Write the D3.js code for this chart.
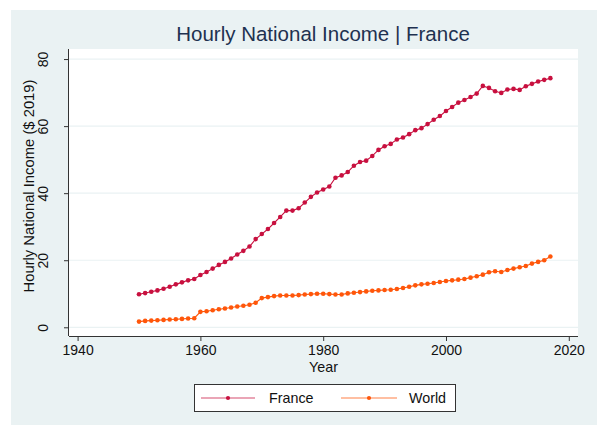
<!DOCTYPE html>
<html>
<head>
<meta charset="utf-8">
<script src="https://cdn.jsdelivr.net/npm/d3@7"></script>
<style>
  html, body { margin: 0; padding: 0; background: #ffffff; }
  svg { display: block; }
  text { font-family: "Liberation Sans", Arial, Helvetica, sans-serif; }
</style>
</head>
<body>
<svg id="chart" width="597" height="425"></svg>
<script>
const years = d3.range(1950, 2018);
const franceValues = [
  9.85, 10.2, 10.6, 11.0, 11.5, 12.1, 12.8, 13.4, 14.0, 14.4,
  15.6, 16.5, 17.5, 18.6, 19.5, 20.5, 21.7, 22.8, 24.1, 26.3,
  27.8, 29.3, 31.1, 32.9, 34.8, 34.8, 35.5, 37.2, 38.9, 40.2,
  41.1, 42.0, 44.6, 45.3, 46.3, 48.2, 49.3, 49.7, 51.1, 52.9,
  54.0, 54.7, 56.0, 56.6, 57.6, 58.8, 59.4, 60.6, 61.9, 63.0,
  64.5, 65.7, 67.0, 67.8, 68.7, 69.7, 72.0, 71.4, 70.4, 69.9,
  70.9, 71.1, 70.8, 71.9, 72.6, 73.3, 73.8, 74.3
];
const worldValues = [
  1.7, 1.9, 2.0, 2.1, 2.2, 2.3, 2.4, 2.5, 2.6, 2.7,
  4.6, 4.8, 5.1, 5.4, 5.6, 5.9, 6.2, 6.4, 6.7, 7.3,
  8.7, 9.0, 9.3, 9.5, 9.5, 9.5, 9.6, 9.8, 9.9, 10.0,
  10.0, 9.9, 9.8, 9.8, 10.1, 10.3, 10.5, 10.7, 10.9, 11.0,
  11.1, 11.2, 11.4, 11.7, 12.1, 12.5, 12.8, 13.0, 13.2, 13.5,
  13.8, 14.0, 14.2, 14.4, 14.8, 15.2, 15.7, 16.4, 16.7, 16.5,
  17.1, 17.5, 17.9, 18.3, 19.0, 19.5, 20.0, 21.1
];
const seriesNames = ["France", "World"];
const seriesColors = ["#c8103f", "#ff560a"];
const xTicks = [1940, 1960, 1980, 2000, 2020];
const yTicks = [0, 20, 40, 60, 80];
const titleText = "Hourly National Income | France";
const xTitle = "Year";
const yTitle = "Hourly National Income ($ 2019)";

const svg = d3.select("#chart");
const W = 597, H = 425;
const plot = { left: 69, right: 578, top: 49, bottom: 336 };

// graph region background
svg.append("rect").attr("x", 11).attr("y", 10).attr("width", W - 11).attr("height", H - 10)
  .attr("fill", "#eaf2f3");

const x = d3.scaleLinear().domain([1938.6, 2021.5]).range([plot.left, plot.right]);
const y = d3.scaleLinear().domain([-2.6, 83]).range([plot.bottom, plot.top]);

// plot region
svg.append("rect").attr("x", plot.left).attr("y", plot.top)
  .attr("width", plot.right - plot.left).attr("height", plot.bottom - plot.top)
  .attr("fill", "#ffffff");

// gridlines
svg.append("g").selectAll("line").data(yTicks).join("line")
  .attr("x1", plot.left).attr("x2", plot.right)
  .attr("y1", d => y(d)).attr("y2", d => y(d))
  .attr("stroke", "#eaf2f3").attr("stroke-width", 1.2);

// x axis
const xAxis = d3.axisBottom(x).tickValues(xTicks).tickFormat(d3.format("d")).tickSize(5).tickPadding(4);
const gx = svg.append("g").attr("transform", `translate(0,${plot.bottom})`).call(xAxis);
gx.select(".domain").attr("stroke", "#333").attr("d", `M${plot.left},0.5H${plot.right}`);
gx.selectAll(".tick line").attr("stroke", "#333");
gx.selectAll(".tick text").attr("font-size", "14px").attr("fill", "#111")
  .attr("font-family", "'Liberation Sans', Arial, sans-serif");

// y axis
const yAxis = d3.axisLeft(y).tickValues(yTicks).tickSize(5).tickPadding(4);
const gy = svg.append("g").attr("transform", `translate(${plot.left},0)`).call(yAxis);
gy.select(".domain").attr("stroke", "#333").attr("d", `M-0.5,${plot.top}V${plot.bottom}`);
gy.selectAll(".tick line").attr("stroke", "#333");
gy.selectAll(".tick text").attr("font-size", "14px").attr("fill", "#111")
  .attr("font-family", "'Liberation Sans', Arial, sans-serif")
  .attr("x", null).attr("dy", null)
  .attr("text-anchor", "middle")
  .attr("transform", "translate(-21,0) rotate(-90)");

// titles
svg.append("text").attr("x", 323).attr("y", 41).attr("text-anchor", "middle")
  .attr("font-size", "20.5px").attr("fill", "#1e3150").text(titleText);
svg.append("text").attr("x", (plot.left + plot.right) / 2).attr("y", 372).attr("text-anchor", "middle")
  .attr("font-size", "14.3px").attr("fill", "#111").text(xTitle);
svg.append("text").attr("transform", `translate(34,186) rotate(-90)`)
  .attr("text-anchor", "middle").attr("font-size", "14.8px").attr("fill", "#111").text(yTitle);

// series
const allSeries = [franceValues, worldValues];
const line = d3.line().x((d, i) => x(years[i])).y(d => y(d));
allSeries.forEach((vals, k) => {
  const g = svg.append("g");
  g.append("path").datum(vals).attr("d", line).attr("fill", "none")
    .attr("stroke", seriesColors[k]).attr("stroke-width", 1.1);
  g.selectAll("circle").data(vals).join("circle")
    .attr("cx", (d, i) => x(years[i])).attr("cy", d => y(d)).attr("r", 2.3)
    .attr("fill", seriesColors[k]);
});

// legend
const lg = svg.append("g");
lg.append("rect").attr("x", 194.5).attr("y", 384.5).attr("width", 261).attr("height", 27)
  .attr("fill", "#fff").attr("stroke", "#333").attr("stroke-width", 1);
const legendItems = [
  { x1: 201, x2: 255, tx: 269 },
  { x1: 341, x2: 397, tx: 409 }
];
legendItems.forEach((it, k) => {
  lg.append("line").attr("x1", it.x1).attr("x2", it.x2).attr("y1", 398).attr("y2", 398)
    .attr("stroke", seriesColors[k]).attr("stroke-width", 1.1).attr("opacity", 0.75);
  lg.append("circle").attr("cx", (it.x1 + it.x2) / 2).attr("cy", 398).attr("r", 2.1)
    .attr("fill", seriesColors[k]);
  lg.append("text").attr("x", it.tx).attr("y", 403).attr("font-size", "14.3px").attr("fill", "#111")
    .text(seriesNames[k]);
});
</script>
</body>
</html>
